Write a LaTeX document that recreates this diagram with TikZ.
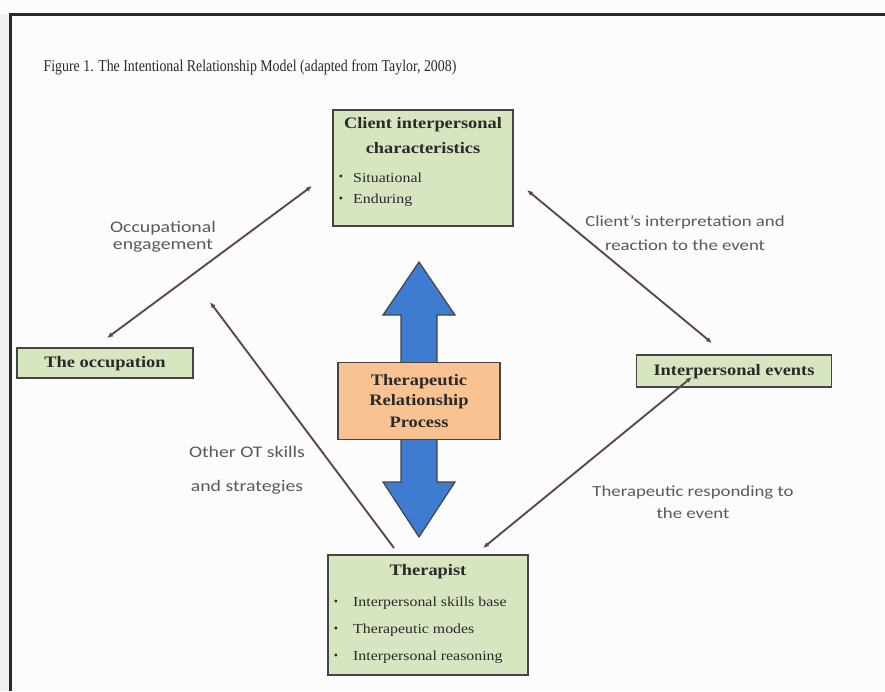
\documentclass[tikz,border=0pt]{standalone}
\usepackage{fontspec}
\setmainfont{Liberation Serif}
\newfontfamily\labfont[FakeStretch=1.22]{Carlito}
\newfontfamily\boxfont[FakeStretch=1.15]{Liberation Serif}
\newfontfamily\titlefont[FakeStretch=0.84]{Liberation Serif}
\usetikzlibrary{arrows.meta}
\definecolor{bg}{HTML}{FCFCFC}
\definecolor{framec}{HTML}{2A2A2A}
\definecolor{gfill}{HTML}{D7E5C0}
\definecolor{ofill}{HTML}{F9C291}
\definecolor{bfill}{HTML}{3D7CD0}
\definecolor{edge}{HTML}{444444}
\definecolor{connc}{HTML}{5E4848}
\definecolor{labc}{HTML}{5A5A5A}
\definecolor{txtc}{HTML}{2A2A2A}
\begin{document}
\begin{tikzpicture}[x=1pt,y=-1pt,
  gbox/.style={draw=edge, line width=1.6pt, fill=gfill, inner sep=0pt},
  obox/.style={draw=edge, line width=1.6pt, fill=ofill, inner sep=0pt},
  btitle/.style={font=\boxfont\fontsize{16}{18}\selectfont\bfseries, text=txtc, inner sep=0pt},
  itemtxt/.style={font=\boxfont\fontsize{13.8}{15}\selectfont, text=txtc, inner sep=0pt, anchor=west},
  bul/.style={font=\fontsize{12}{14}\selectfont, text=txtc, inner sep=0pt},
  lab/.style={font=\labfont\fontsize{15.4}{17}\selectfont, text=labc, inner sep=0pt},
  biglab/.style={lab, font=\labfont\fontsize{16.2}{18}\selectfont},
  conn/.style={draw=connc, line width=1.9pt},
  tip/.style={-{Latex[length=6pt,width=5pt]}},
  bothtip/.style={{Latex[length=6pt,width=5pt]}-{Latex[length=6pt,width=5pt]}}
]
\useasboundingbox (0,0) rectangle (885,691);
\fill[bg] (0,0) rectangle (885,691);
\fill[black!6] (0,14) rectangle (9,691);
\draw[framec, line width=3pt] (10,691) -- (10,14) -- (885,14);

% title
\node[font=\titlefont\fontsize{16.5}{18}\selectfont, text=txtc, inner sep=0pt] (title) at (250,67)
  {Figure 1. The Intentional Relationship Model (adapted from Taylor, 2008)};

% big double arrow
\draw[draw=edge, line width=1.2pt, fill=bfill] (419,262) -- (455,315) -- (437,315) -- (437,482)
  -- (455,482) -- (419,537) -- (383,482) -- (401,482) -- (401,315) -- (383,315) -- cycle;

% client box
\node[gbox, minimum width=180, minimum height=116] (client) at (423,168) {};
\node[btitle] (ct1) at (423,125) {Client interpersonal};
\node[btitle] (ct2) at (423,148) {characteristics};
\node[bul] (cb1) at (341,178) {•};
\node[itemtxt] (ci1) at (353,178) {Situational};
\node[bul] (cb2) at (341,200) {•};
\node[itemtxt] (ci2) at (353,200) {Enduring};

% occupation
\node[gbox, minimum width=176, minimum height=30] (occ) at (105,363) {};
\node[btitle] (occt) at (105,364) {The occupation};

% interpersonal events
\node[gbox, minimum width=195, minimum height=32] (ev) at (734,371) {};
\node[btitle] (evt) at (734,372) {Interpersonal events};

% process
\node[obox, minimum width=162, minimum height=77] (proc) at (419,401) {};
\node[btitle] (p1) at (419,382) {Therapeutic};
\node[btitle] (p2) at (419,402) {Relationship};
\node[btitle] (p3) at (419,422) {Process};

% therapist
\node[gbox, minimum width=200, minimum height=120] (ther) at (428,615) {};
\node[btitle] (tt) at (428,572) {Therapist};
\node[bul] (tb1) at (336,603) {•};
\node[itemtxt] (ti1) at (353,603) {Interpersonal skills base};
\node[bul] (tb2) at (336,630) {•};
\node[itemtxt] (ti2) at (353,630) {Therapeutic modes};
\node[bul] (tb3) at (336,657) {•};
\node[itemtxt] (ti3) at (353,657) {Interpersonal reasoning};

% connectors
\coordinate (c1a) at (312,186); \coordinate (c1b) at (107,338);
\coordinate (c2a) at (394,548); \coordinate (c2b) at (210,302);
\coordinate (c3a) at (527,190); \coordinate (c3b) at (712,343);
\coordinate (c4a) at (692,377); \coordinate (c4b) at (483,548);
\draw[conn, bothtip] (c1a) -- (c1b);
\draw[conn, tip] (c2a) -- (c2b);
\draw[conn, bothtip] (c3a) -- (c3b);
\draw[conn, bothtip] (c4a) -- (c4b);

% labels
\node[biglab] (l1a) at (163,228) {Occupational};
\node[biglab] (l1b) at (163,246) {engagement};
\node[biglab] (l2a) at (247,452) {Other OT skills};
\node[biglab] (l2b) at (247,487) {and strategies};
\node[lab] (l3a) at (685,222) {Client’s interpretation and};
\node[lab] (l3b) at (685,245) {reaction to the event};
\node[lab] (l4a) at (693,492) {Therapeutic responding to};
\node[lab] (l4b) at (693,513) {the event};
\end{tikzpicture}
\end{document}
